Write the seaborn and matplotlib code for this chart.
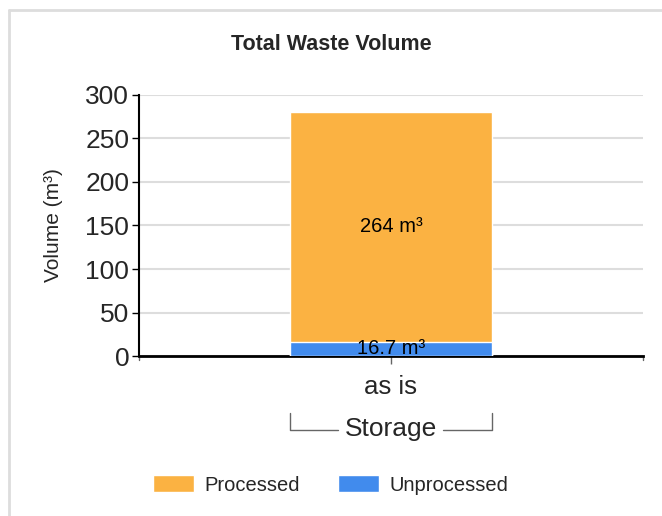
import numpy as np
import pandas as pd
import seaborn as sns
from matplotlib import pyplot as plt
from matplotlib.lines import Line2D
from matplotlib.patches import Patch

# data
categories = ['as is']
group_label = 'Storage'
processed = [264]
unprocessed = [16.7]
series_names = ['Processed', 'Unprocessed']
yticks = [0, 50, 100, 150, 200, 250, 300]

orange = '#FBB242'
blue = '#418BED'

sns.set_theme(style='white')
plt.rcParams['font.family'] = ['Liberation Sans', 'DejaVu Sans']

df = pd.DataFrame({'category': categories,
                   'Processed': processed,
                   'Unprocessed': unprocessed})
df['total'] = df['Processed'] + df['Unprocessed']

fig = plt.figure(figsize=(6.62, 5.16), dpi=100)
ax = fig.add_axes([0.21, 0.31, 0.761, 0.506])

# stacked bar: total in orange, unprocessed part drawn over it in blue
sns.barplot(data=df, x='category', y='total', color=orange, width=0.4,
            saturation=1, ax=ax, zorder=3)
sns.barplot(data=df, x='category', y='Unprocessed', color=blue, width=0.4,
            saturation=1, ax=ax, zorder=3)

ax.set_xlim(-0.5, 0.5)
ax.set_ylim(0, 300)
ax.set_yticks(yticks)
ax.yaxis.grid(True, color='#DDDDDD', linewidth=1.5, zorder=0)
ax.set_axisbelow(True)
ax.tick_params(axis='y', labelsize=19, length=5, width=1, color='black', pad=2, left=True)
ax.tick_params(axis='x', labelsize=18.5, length=6, width=1, color='#666666', pad=8, bottom=True)
ax.set_xlabel('')
ax.set_ylabel('Volume (m³)', fontsize=15)
ax.yaxis.set_label_coords(-0.15, 0.5)

for s in ['top', 'right']:
    ax.spines[s].set_visible(False)
ax.spines['left'].set_color('black')
ax.spines['left'].set_linewidth(1.5)
ax.spines['bottom'].set_color('black')
ax.spines['bottom'].set_linewidth(2)

# end ticks of x axis
for xe in (-0.5, 0.5):
    ax.plot([xe, xe], [0, -5], color='#666666', lw=1, clip_on=False)

# value labels
for i, row in df.iterrows():
    ax.text(i, row['Unprocessed'] + row['Processed'] / 2, f"{row['Processed']:g} m³",
            ha='center', va='center', fontsize=14.5, color='black', zorder=5)
    ax.text(i, row['Unprocessed'] / 2, f"{row['Unprocessed']:g} m³",
            ha='center', va='center', fontsize=14.5, color='black', zorder=5)

# group bracket under the category
trans = ax.get_xaxis_transform()
gy = -0.285
ax.plot([-0.2, -0.2, -0.105], [gy + 0.065, gy, gy], color='#666666', lw=1,
        transform=trans, clip_on=False)
ax.plot([0.103, 0.2, 0.2], [gy, gy, gy + 0.065], color='#666666', lw=1,
        transform=trans, clip_on=False)
ax.text(0, gy + 0.005, group_label, ha='center', va='center', fontsize=19,
        transform=trans)

fig.suptitle('Total Waste Volume', fontsize=15.5, fontweight='bold', y=0.935)

handles = [Patch(facecolor=orange, label=series_names[0]),
           Patch(facecolor=blue, label=series_names[1])]
fig.legend(handles=handles, loc='center', bbox_to_anchor=(0.5, 0.06), ncol=2,
           frameon=False, fontsize=14.5, handlelength=2.0, handleheight=0.9,
           columnspacing=1.9, handletextpad=0.55)

# partial frame around the figure
fig.add_artist(Line2D([0.0136, 1.0], [0.981, 0.981], color='#DDDDDD', lw=2))
fig.add_artist(Line2D([0.0136, 0.0136], [0.0, 0.981], color='#DDDDDD', lw=2))

fig.savefig('out.png', dpi=100)
